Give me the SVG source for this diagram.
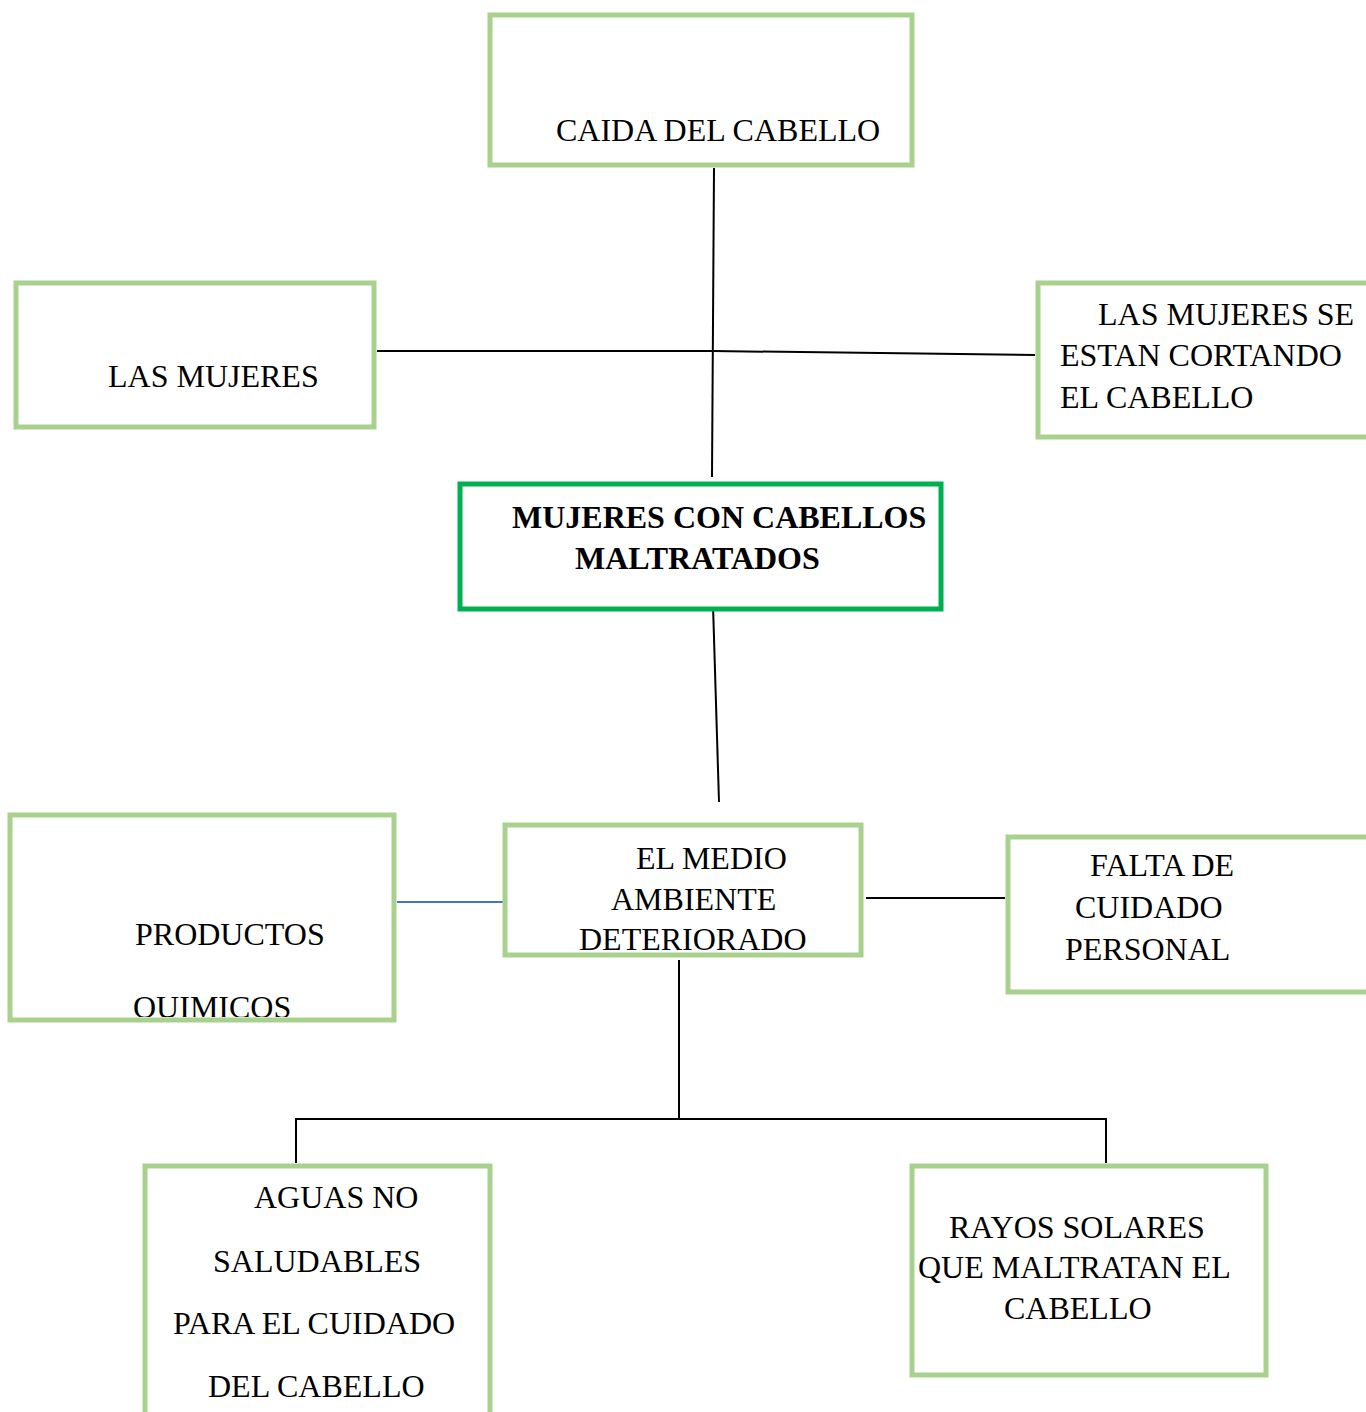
<svg xmlns="http://www.w3.org/2000/svg" width="1366" height="1412" viewBox="0 0 1366 1412">
<style>
.box{fill:#fff;stroke:#A9D18E;stroke-width:5}
.main{fill:#fff;stroke:#00B050;stroke-width:5}
text{font-family:"Liberation Serif","Times New Roman",serif;font-size:32px;fill:#000}
.b{font-weight:bold}
.ln{stroke:#000;stroke-width:2;fill:none}
</style>
<defs>
<clipPath id="clipQ"><rect x="10" y="815" width="384" height="202"/></clipPath>
</defs>
<rect width="1366" height="1412" fill="#fff"/>
<g id="connectors">
<line class="ln" x1="714" y1="168" x2="712" y2="477"/>
<polyline class="ln" points="377,351 713,351 1035,355"/>
<line class="ln" x1="713" y1="605" x2="719" y2="802"/>
<line x1="397" y1="902" x2="503" y2="902" stroke="#4472C4" stroke-width="2"/>
<line class="ln" x1="866" y1="898" x2="1005" y2="898"/>
<line class="ln" x1="679" y1="960" x2="679" y2="1119"/>
<polyline class="ln" points="296,1163 296,1119 1106,1119 1106,1163"/>
</g>
<g id="caida">
<rect class="box" x="490" y="15" width="422" height="150"/>
<text x="556" y="141">CAIDA DEL CABELLO</text>
</g>
<g id="las-mujeres">
<rect class="box" x="16" y="283" width="358" height="144"/>
<text x="108" y="387">LAS MUJERES</text>
</g>
<g id="cortando">
<rect class="box" x="1038" y="283" width="340" height="154"/>
<text x="1098" y="325">LAS MUJERES SE</text>
<text x="1060" y="366">ESTAN CORTANDO</text>
<text x="1060" y="408">EL CABELLO</text>
</g>
<g id="central">
<rect class="main" x="460" y="484" width="481" height="125"/>
<text class="b" x="512" y="528">MUJERES CON CABELLOS</text>
<text class="b" x="575" y="569">MALTRATADOS</text>
</g>
<g id="productos">
<rect class="box" x="10" y="815" width="384" height="205"/>
<text x="135" y="945">PRODUCTOS</text>
<text x="133" y="1018" clip-path="url(#clipQ)">OUIMICOS</text>
</g>
<g id="medio">
<rect class="box" x="505" y="825" width="356" height="130"/>
<text x="636" y="869">EL MEDIO</text>
<text x="611" y="910">AMBIENTE</text>
<text x="579" y="950">DETERIORADO</text>
</g>
<g id="falta">
<rect class="box" x="1008" y="837" width="370" height="155"/>
<text x="1090" y="876">FALTA DE</text>
<text x="1075" y="918">CUIDADO</text>
<text x="1065" y="960">PERSONAL</text>
</g>
<g id="aguas">
<rect class="box" x="145" y="1166" width="345" height="260"/>
<text x="254" y="1208">AGUAS NO</text>
<text x="213" y="1272">SALUDABLES</text>
<text x="173" y="1334">PARA EL CUIDADO</text>
<text x="208" y="1397">DEL CABELLO</text>
</g>
<g id="rayos">
<rect class="box" x="912" y="1166" width="354" height="209"/>
<text x="949" y="1238">RAYOS SOLARES</text>
<text x="918" y="1278">QUE MALTRATAN EL</text>
<text x="1004" y="1319">CABELLO</text>
</g>
</svg>
